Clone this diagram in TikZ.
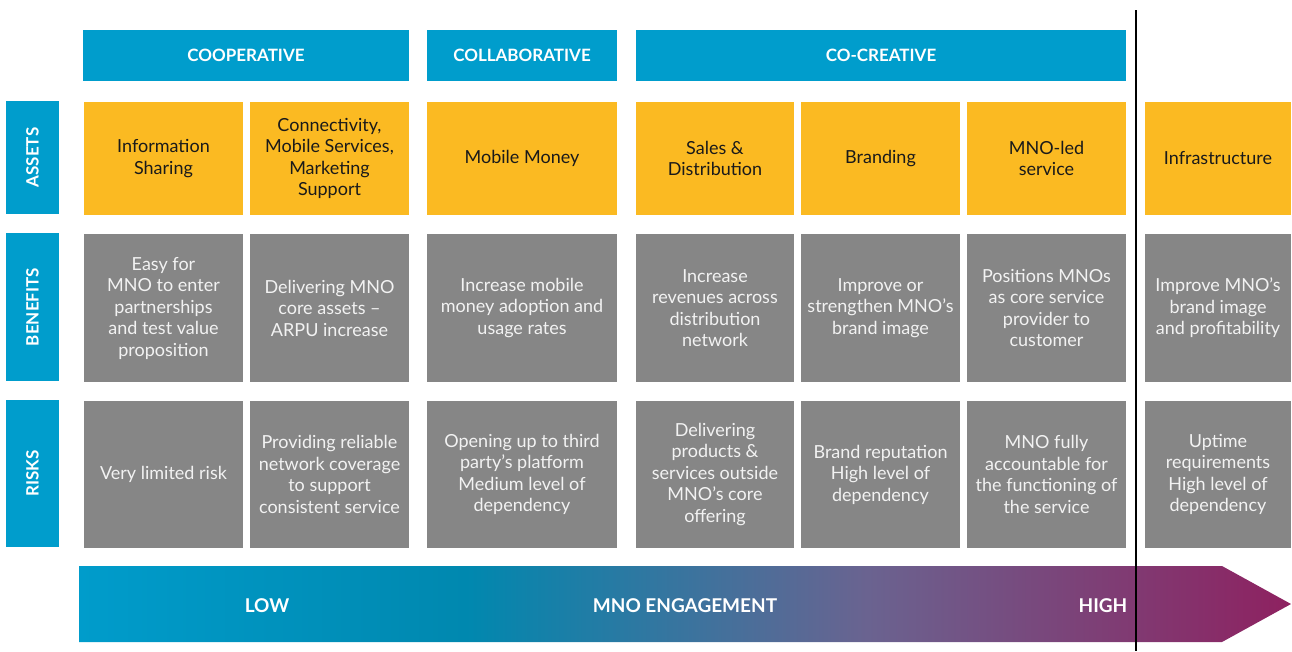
\documentclass[tikz,border=0pt]{standalone}
\usepackage{fontspec}
\setmainfont{Lato}
\definecolor{hdrblue}{HTML}{009DCC}
\definecolor{assetyel}{HTML}{FBBA22}
\definecolor{benegrey}{HTML}{868686}
\definecolor{darktxt}{HTML}{1A1A1A}
\definecolor{lighttxt}{HTML}{F2F2F2}
\definecolor{arrA}{HTML}{009CCB}
\definecolor{arrB}{HTML}{0088AF}
\definecolor{arrC}{HTML}{6A6390}
\definecolor{arrD}{HTML}{8E2160}
\pgfdeclarehorizontalshading{mnoshade}{100bp}{color(0bp)=(arrA); color(25bp)=(arrA); color(41bp)=(arrB); color(57.5bp)=(arrC); color(75bp)=(arrD); color(100bp)=(arrD)}
\begin{document}
\begin{tikzpicture}[x=1pt,y=-1pt,
  every node/.style={inner sep=0pt, outer sep=0pt, align=center},
  hdrfont/.style={font=\fontsize{17}{20}\selectfont\bfseries},
  hdr/.style={fill=hdrblue, text=white, hdrfont, minimum height=51pt},
  rowlbl/.style={fill=hdrblue, minimum width=53pt},
  rowtxt/.style={rotate=90, text=white, hdrfont},
  bodyfont/.style={font=\fontsize{18}{21.5}\selectfont},
  asset/.style={fill=assetyel, text=darktxt, bodyfont, minimum height=113pt},
  bene/.style={fill=benegrey, text=lighttxt, bodyfont, minimum height=148pt},
  risk/.style={fill=benegrey, text=lighttxt, bodyfont, minimum height=147pt},
  wA/.style={minimum width=159pt}, wB/.style={minimum width=190pt}, wC/.style={minimum width=158pt}, wD/.style={minimum width=146pt},
  arrlbl/.style={text=white, font=\fontsize{19}{22}\selectfont\bfseries}
]
\useasboundingbox (0,0) rectangle (1292,651);
% headers
\node[hdr, minimum width=326pt] (hcoop) at (246,55.5) {COOPERATIVE};
\node[hdr, minimum width=190pt] (hcoll) at (522,55.5) {COLLABORATIVE};
\node[hdr, minimum width=490pt] (hcocr) at (881,55.5) {CO-CREATIVE};
% row labels
\node[rowlbl, minimum height=113pt] (lassets) at (32.5,157.5) {};
\node[rowtxt] (tassets) at (lassets.center) {ASSETS};
\node[rowlbl, minimum height=148pt] (lbene) at (32.5,307) {};
\node[rowtxt] (tbene) at (lbene.center) {BENEFITS};
\node[rowlbl, minimum height=147pt] (lrisk) at (32.5,473.5) {};
\node[rowtxt] (trisk) at (lrisk.center) {RISKS};
% assets
\node[asset, wA] (a1) at (163.5,158.5) {Information\\Sharing};
\node[asset, wA] (a2) at (329.5,158.5) {Connectivity,\\Mobile Services,\\Marketing\\Support};
\node[asset, wB] (a3) at (522,158.5) {Mobile Money};
\node[asset, wC] (a4) at (715,158.5) {Sales \&\\Distribution};
\node[asset, wA] (a5) at (880.5,158.5) {Branding};
\node[asset, wA] (a6) at (1046.5,158.5) {MNO-led\\service};
\node[asset, wD] (a7) at (1218,158.5) {Infrastructure};
% benefits
\node[bene, wA] (b1) at (163.5,308) {Easy for\\MNO to enter\\partnerships\\and test value\\proposition};
\node[bene, wA] (b2) at (329.5,308) {Delivering MNO\\core assets --\\ARPU increase};
\node[bene, wB] (b3) at (522,308) {Increase mobile\\money adoption and\\usage rates};
\node[bene, wC] (b4) at (715,308) {Increase\\revenues across\\distribution\\network};
\node[bene, wA] (b5) at (880.5,308) {Improve or\\strengthen MNO’s\\brand image};
\node[bene, wA] (b6) at (1046.5,308) {Positions MNOs\\as core service\\provider to\\customer};
\node[bene, wD] (b7) at (1218,308) {Improve MNO’s\\brand image\\and profitability};
% risks
\node[risk, wA] (r1) at (163.5,474.5) {Very limited risk};
\node[risk, wA] (r2) at (329.5,474.5) {Providing reliable\\network coverage\\to support\\consistent service};
\node[risk, wB] (r3) at (522,474.5) {Opening up to third\\party’s platform\\Medium level of\\dependency};
\node[risk, wC] (r4) at (715,474.5) {Delivering\\products \&\\services outside\\MNO’s core\\offering};
\node[risk, wA] (r5) at (880.5,474.5) {Brand reputation\\High level of\\dependency};
\node[risk, wA] (r6) at (1046.5,474.5) {MNO fully\\accountable for\\the functioning of\\the service};
\node[risk, wD] (r7) at (1218,474.5) {Uptime\\requirements\\High level of\\dependency};
% arrow
\shade[shading=mnoshade] (79,566) -- (1222,566) -- (1291,604) -- (1222,642) -- (79,642) -- cycle;
\node[arrlbl] (low) at (267,606) {LOW};
\node[arrlbl] (eng) at (685,606) {MNO ENGAGEMENT};
\node[arrlbl] (high) at (1103,606) {HIGH};
% divider
\coordinate (dtop) at (1136,10);
\coordinate (dbot) at (1136,651);
\draw[line width=2.5pt, black] (dtop) -- (dbot);
\end{tikzpicture}
\end{document}
